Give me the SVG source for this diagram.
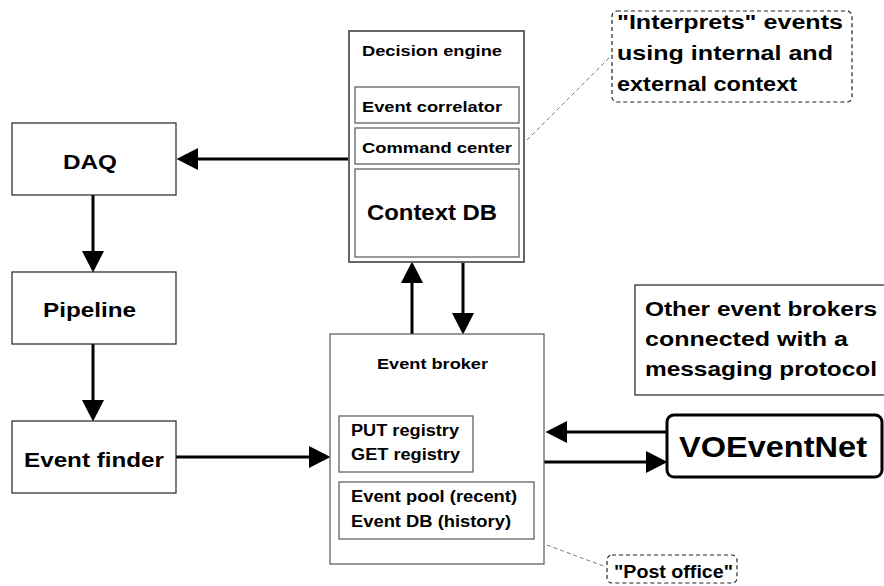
<svg xmlns="http://www.w3.org/2000/svg" width="884" height="586" viewBox="0 0 884 586">
<style>
  text { font-family: "Liberation Sans", Arial, sans-serif; font-weight: bold; fill: #000; }
  .box { fill: #fff; stroke: #222; stroke-width: 1.2; }
  .gbox { fill: #fff; stroke: #555; stroke-width: 1.2; }
  .outer { fill: #fff; stroke: #666; stroke-width: 2; }
  .note { fill: #fff; stroke: #222; stroke-width: 1.2; stroke-dasharray: 4 3; }
  .lead { fill: none; stroke: #777; stroke-width: 1; stroke-dasharray: 4 3; }
  .arrow { fill: none; stroke: #000; stroke-width: 3; marker-end: url(#head); }
  .vo { fill: #fff; stroke: #000; stroke-width: 3; }
</style>
<defs>
  <marker id="head" markerUnits="userSpaceOnUse" markerWidth="22" markerHeight="24" viewBox="0 -12 22 24" refX="0" refY="0" orient="auto">
    <path d="M0,-11 L21.5,0 L0,11 z" fill="#000"/>
  </marker>
</defs>
<rect width="884" height="586" fill="#fff"/>

<g id="connectors">
  <path class="arrow" d="M349,159 H198"/>
  <path class="arrow" d="M93,195 V251"/>
  <path class="arrow" d="M93,344 V400"/>
  <path class="arrow" d="M176,457 H309"/>
  <path class="arrow" d="M412,334 V283"/>
  <path class="arrow" d="M463,262 V313"/>
  <path class="arrow" d="M667,432 H567"/>
  <path class="arrow" d="M544,462 H646"/>
  <path class="lead" d="M527,140 L612,55"/>
  <path class="lead" d="M547,545 L606,567"/>
</g>

<g id="decision-engine">
  <rect class="outer" x="349" y="31" width="175" height="231"/>
  <text x="362" y="56" font-size="15.5" textLength="140" lengthAdjust="spacingAndGlyphs">Decision engine</text>
  <rect class="gbox" x="355" y="87" width="164" height="36"/>
  <text x="362" y="112" font-size="15.5" textLength="140" lengthAdjust="spacingAndGlyphs">Event correlator</text>
  <rect class="gbox" x="355" y="128" width="164" height="36"/>
  <text x="362" y="153" font-size="15.5" textLength="150" lengthAdjust="spacingAndGlyphs">Command center</text>
  <rect class="gbox" x="355" y="169" width="164" height="88"/>
  <text x="367" y="220" font-size="21.5" textLength="130" lengthAdjust="spacingAndGlyphs">Context DB</text>
</g>

<g id="daq">
  <rect class="box" x="12" y="123" width="164" height="72"/>
  <text x="63" y="169" font-size="21" textLength="54" lengthAdjust="spacingAndGlyphs">DAQ</text>
</g>

<g id="pipeline">
  <rect class="box" x="12" y="272" width="164" height="72"/>
  <text x="43" y="317" font-size="21" textLength="93" lengthAdjust="spacingAndGlyphs">Pipeline</text>
</g>

<g id="event-finder">
  <rect class="box" x="12" y="421" width="164" height="72"/>
  <text x="24" y="467" font-size="21" textLength="140" lengthAdjust="spacingAndGlyphs">Event finder</text>
</g>

<g id="event-broker">
  <rect class="gbox" x="330" y="334" width="214" height="230"/>
  <text x="377" y="369" font-size="15.5" textLength="111" lengthAdjust="spacingAndGlyphs">Event broker</text>
  <rect class="gbox" x="339" y="416" width="134" height="56"/>
  <text x="351" y="436" font-size="16" textLength="108" lengthAdjust="spacingAndGlyphs">PUT registry</text>
  <text x="351" y="460" font-size="16" textLength="109" lengthAdjust="spacingAndGlyphs">GET registry</text>
  <rect class="gbox" x="339" y="482" width="195" height="57"/>
  <text x="351" y="502" font-size="16" textLength="166" lengthAdjust="spacingAndGlyphs">Event pool (recent)</text>
  <text x="351" y="527" font-size="16" textLength="160" lengthAdjust="spacingAndGlyphs">Event DB (history)</text>
</g>

<g id="voeventnet">
  <rect class="vo" x="667" y="415" width="215" height="62" rx="7" ry="7"/>
  <text x="679" y="457" font-size="30" textLength="188" lengthAdjust="spacingAndGlyphs">VOEventNet</text>
</g>

<g id="other-brokers">
  <rect class="box" x="635" y="285" width="260" height="110"/>
  <text x="645" y="316" font-size="21" textLength="232" lengthAdjust="spacingAndGlyphs">Other event brokers</text>
  <text x="645" y="346" font-size="21" textLength="203" lengthAdjust="spacingAndGlyphs">connected with a</text>
  <text x="645" y="376" font-size="21" textLength="232" lengthAdjust="spacingAndGlyphs">messaging protocol</text>
</g>

<g id="interprets-note">
  <rect class="note" x="612" y="11" width="240" height="91" rx="5" ry="5"/>
  <text x="617" y="29" font-size="21" textLength="226" lengthAdjust="spacingAndGlyphs">"Interprets" events</text>
  <text x="617" y="60" font-size="21" textLength="216" lengthAdjust="spacingAndGlyphs">using internal and</text>
  <text x="617" y="91" font-size="21" textLength="180" lengthAdjust="spacingAndGlyphs">external context</text>
</g>

<g id="post-office-note">
  <rect class="note" x="607" y="555" width="130" height="28" rx="5" ry="5"/>
  <text x="614" y="578" font-size="18" textLength="119" lengthAdjust="spacingAndGlyphs">"Post office"</text>
</g>
</svg>
